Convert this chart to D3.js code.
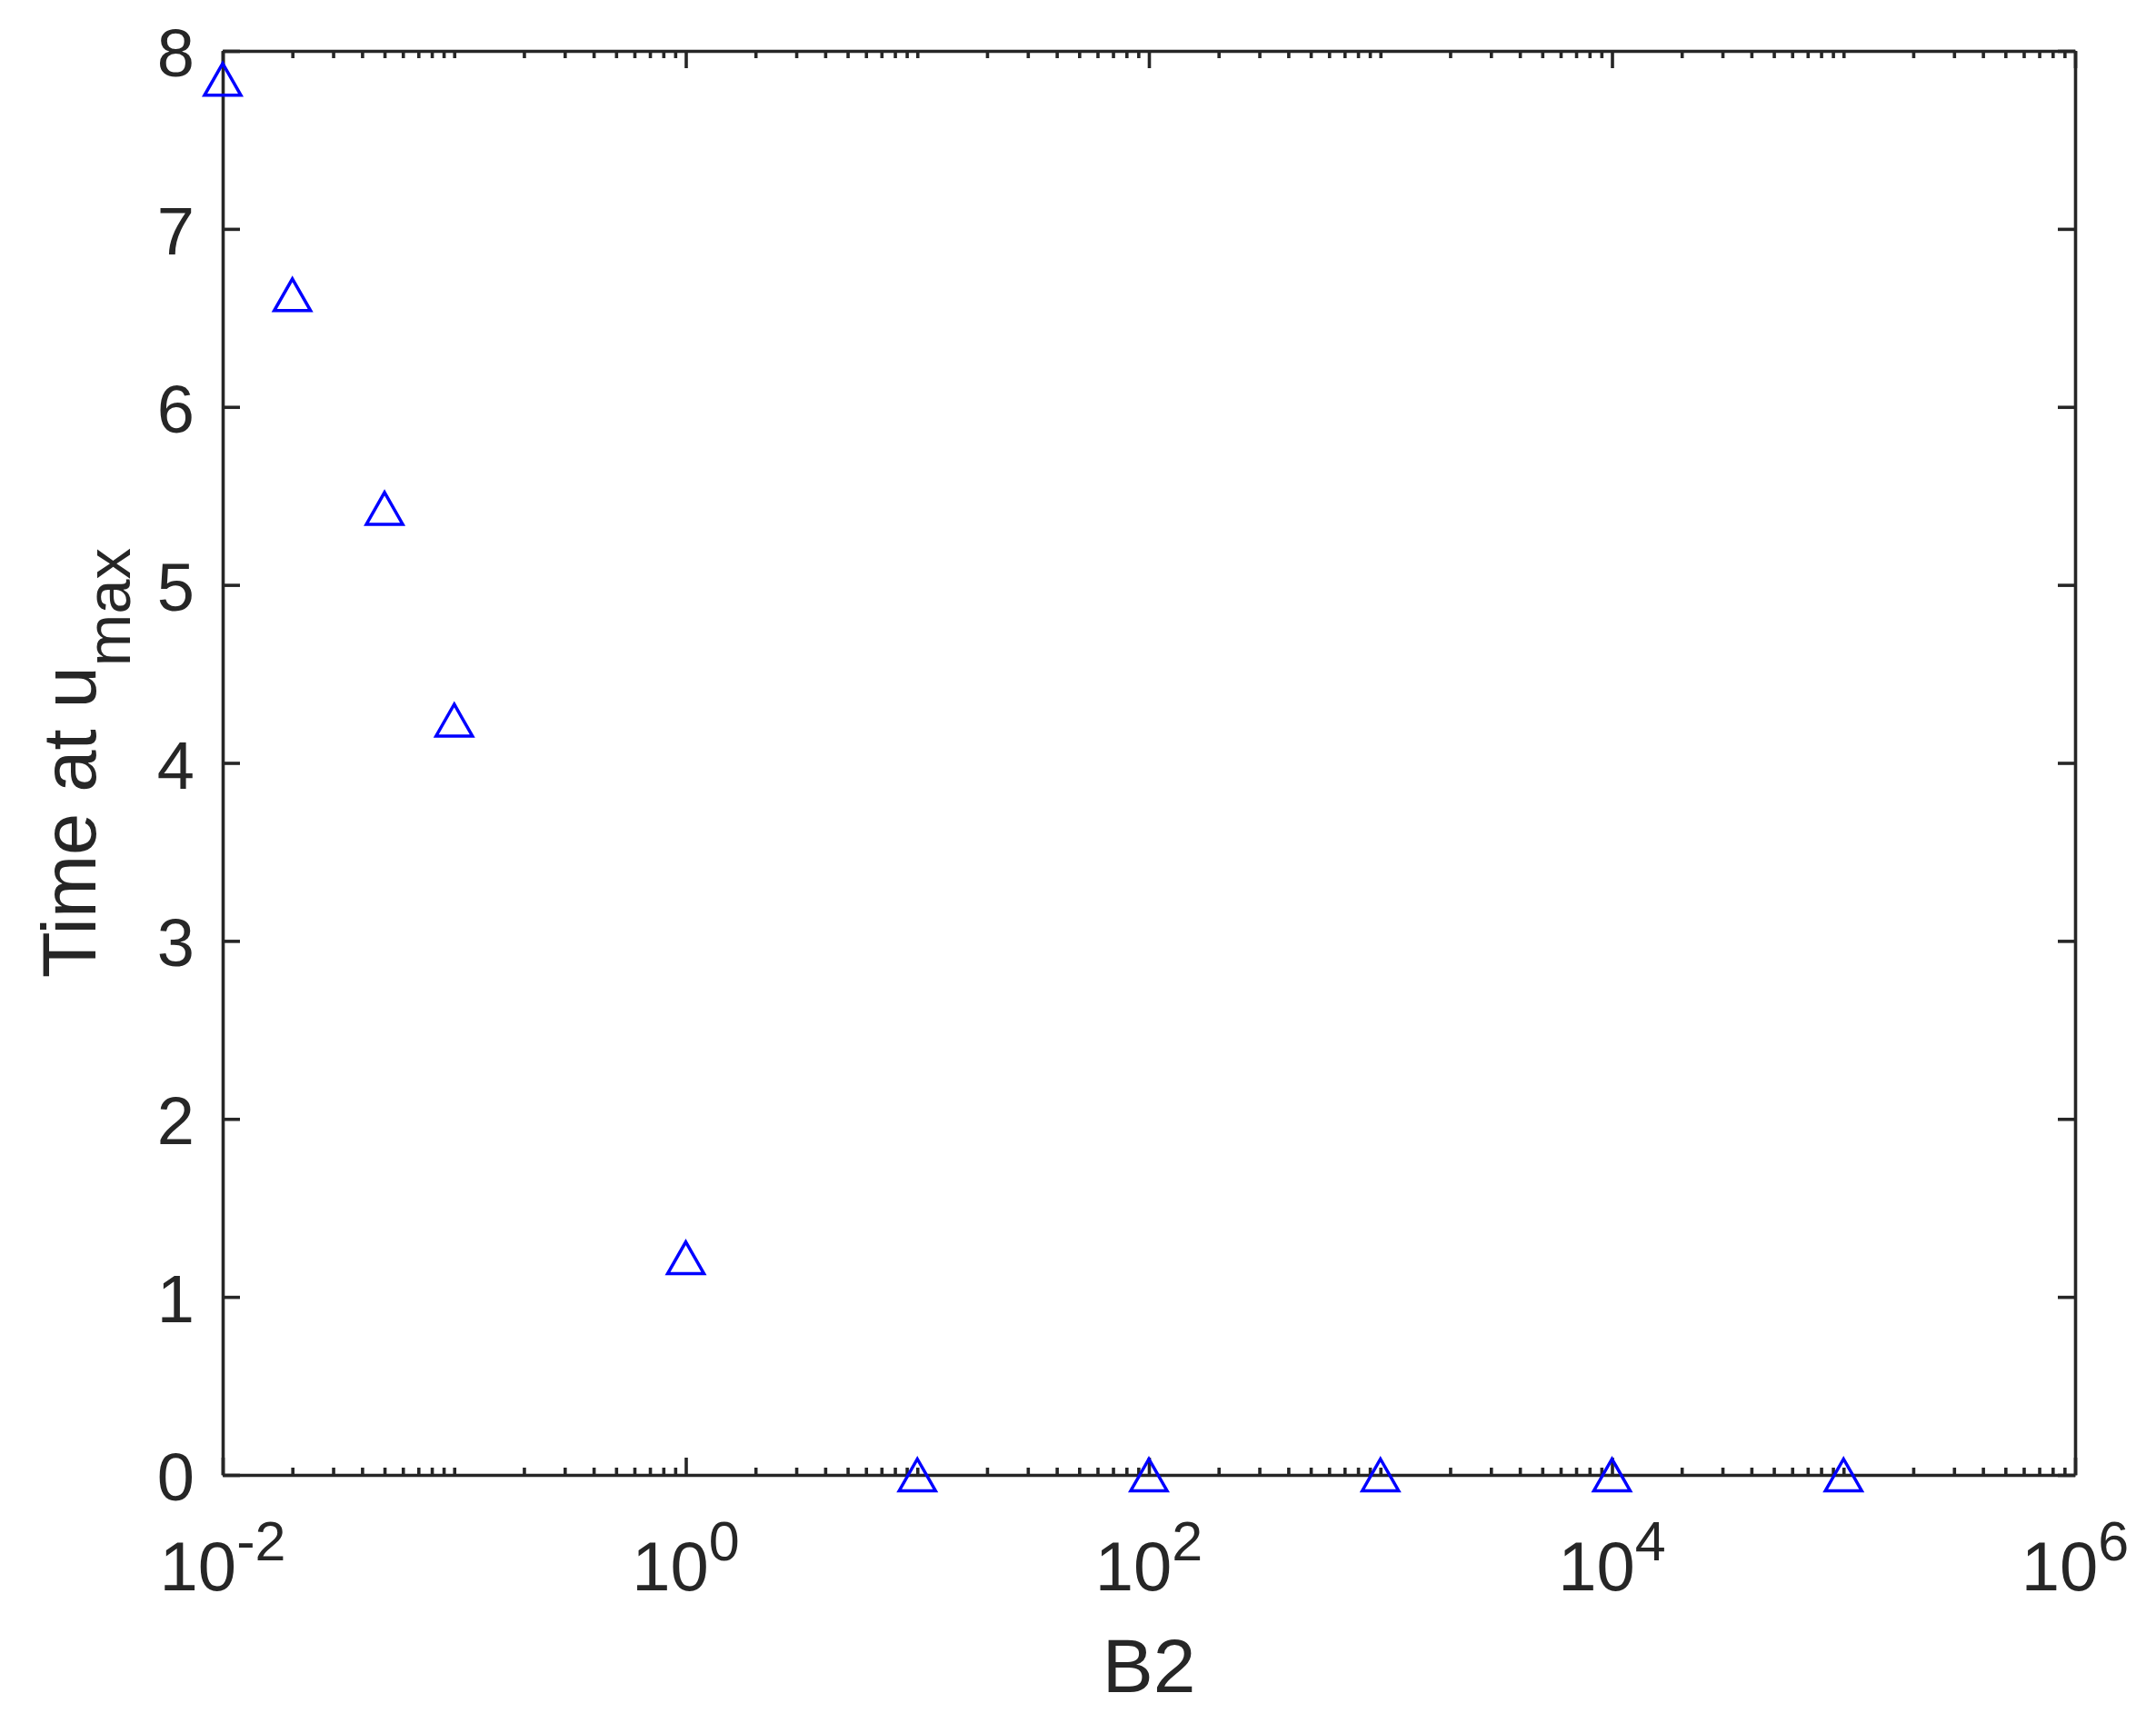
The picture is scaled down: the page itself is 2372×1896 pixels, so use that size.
<!DOCTYPE html>
<html>
<head>
<meta charset="utf-8">
<script src="https://cdn.jsdelivr.net/npm/d3@7"></script>
<style>
  html, body { margin: 0; padding: 0; background: #fff; }
  svg { display: block; font-family: "Liberation Sans", Arial, Helvetica, sans-serif; }
</style>
</head>
<body>
<div id="chart"></div>
<script>
// values
const b2Values = [0.01, 0.02, 0.05, 0.1, 1, 10, 100, 1000, 10000, 100000];
const timeValues = [7.84, 6.63, 5.43, 4.24, 1.22, 0, 0, 0, 0, 0];
const xMajorTicks = [1e-2, 1e0, 1e2, 1e4, 1e6];
const xTickExponents = ['-2', '0', '2', '4', '6'];
const yTicks = [0, 1, 2, 3, 4, 5, 6, 7, 8];

const width = 2372, height = 1896;
const margin = {top: 56, right: 89, bottom: 273, left: 245};
const ink = '#262626';

const svg = d3.select('#chart')
  .append('svg')
    .attr('width', width)
    .attr('height', height);

const x = d3.scaleLog()
  .domain([1e-2, 1e6])
  .range([margin.left, width - margin.right]);

const y = d3.scaleLinear()
  .domain([0, 8])
  .range([height - margin.bottom, margin.top]);

const xMinor = x.ticks().filter(v => !xMajorTicks.some(m => Math.abs(m - v) / m < 1e-9));

function styleAxis(g) {
  g.selectAll('.domain').attr('stroke', ink).attr('stroke-width', 3.6);
  g.selectAll('.tick line').attr('stroke', ink).attr('stroke-width', 3.6);
  g.selectAll('text').remove();
}

// bottom
svg.append('g')
  .attr('transform', `translate(0,${y(0)})`)
  .call(d3.axisBottom(x).tickValues(xMajorTicks).tickSize(-19).tickSizeOuter(0).tickFormat(''))
  .call(styleAxis);
svg.append('g')
  .attr('transform', `translate(0,${y(0)})`)
  .call(d3.axisBottom(x).tickValues(xMinor).tickSize(-8).tickSizeOuter(0).tickFormat(''))
  .call(styleAxis)
  .call(g => g.select('.domain').remove());

// top
svg.append('g')
  .attr('transform', `translate(0,${y(8)})`)
  .call(d3.axisTop(x).tickValues(xMajorTicks).tickSize(-19).tickSizeOuter(0).tickFormat(''))
  .call(styleAxis);
svg.append('g')
  .attr('transform', `translate(0,${y(8)})`)
  .call(d3.axisTop(x).tickValues(xMinor).tickSize(-8).tickSizeOuter(0).tickFormat(''))
  .call(styleAxis)
  .call(g => g.select('.domain').remove());

// left / right
svg.append('g')
  .attr('transform', `translate(${x(1e-2)},0)`)
  .call(d3.axisLeft(y).tickValues(yTicks).tickSize(-19).tickSizeOuter(0).tickFormat(''))
  .call(styleAxis);
svg.append('g')
  .attr('transform', `translate(${x(1e6)},0)`)
  .call(d3.axisRight(y).tickValues(yTicks).tickSize(-19).tickSizeOuter(0).tickFormat(''))
  .call(styleAxis);

// y tick labels
svg.append('g')
  .selectAll('text')
  .data(yTicks)
  .join('text')
    .attr('x', x(1e-2) - 31)
    .attr('y', d => y(d) + 28)
    .attr('text-anchor', 'end')
    .attr('font-size', 74)
    .attr('fill', ink)
    .text(d => d);

// x tick labels, 10 with superscript
const xLabels = svg.append('g')
  .selectAll('text')
  .data(xMajorTicks)
  .join('text')
    .attr('x', d => x(d))
    .attr('y', y(0) + 127)
    .attr('text-anchor', 'middle')
    .attr('fill', ink)
    .attr('font-size', 76);
xLabels.append('tspan').text('10');
xLabels.append('tspan')
  .attr('font-size', 61)
  .attr('dy', -33)
  .text((d, i) => xTickExponents[i]);

// axis titles
svg.append('text')
  .attr('x', (x(1e-2) + x(1e6)) / 2)
  .attr('y', 1862)
  .attr('text-anchor', 'middle')
  .attr('font-size', 84)
  .attr('fill', ink)
  .text('B2');

const yTitle = svg.append('text')
  .attr('transform', `translate(105,${(y(0) + y(8)) / 2}) rotate(-90)`)
  .attr('text-anchor', 'middle')
  .attr('font-size', 83)
  .attr('fill', ink);
yTitle.append('tspan').text('Time at u');
yTitle.append('tspan').attr('font-size', 69).attr('dy', 38).text('max');

// markers: open triangles, box-centred on the point
const data = b2Values.map((b, i) => ({b, t: timeValues[i]}));
svg.append('g')
  .selectAll('path')
  .data(data)
  .join('path')
    .attr('d', d => {
      const cx = x(d.b), cy = y(d.t);
      return `M${cx},${cy - 17.5}L${cx + 20},${cy + 17.5}L${cx - 20},${cy + 17.5}Z`;
    })
    .attr('fill', 'none')
    .attr('stroke', '#0000ff')
    .attr('stroke-width', 3.5);
</script>
</body>
</html>
